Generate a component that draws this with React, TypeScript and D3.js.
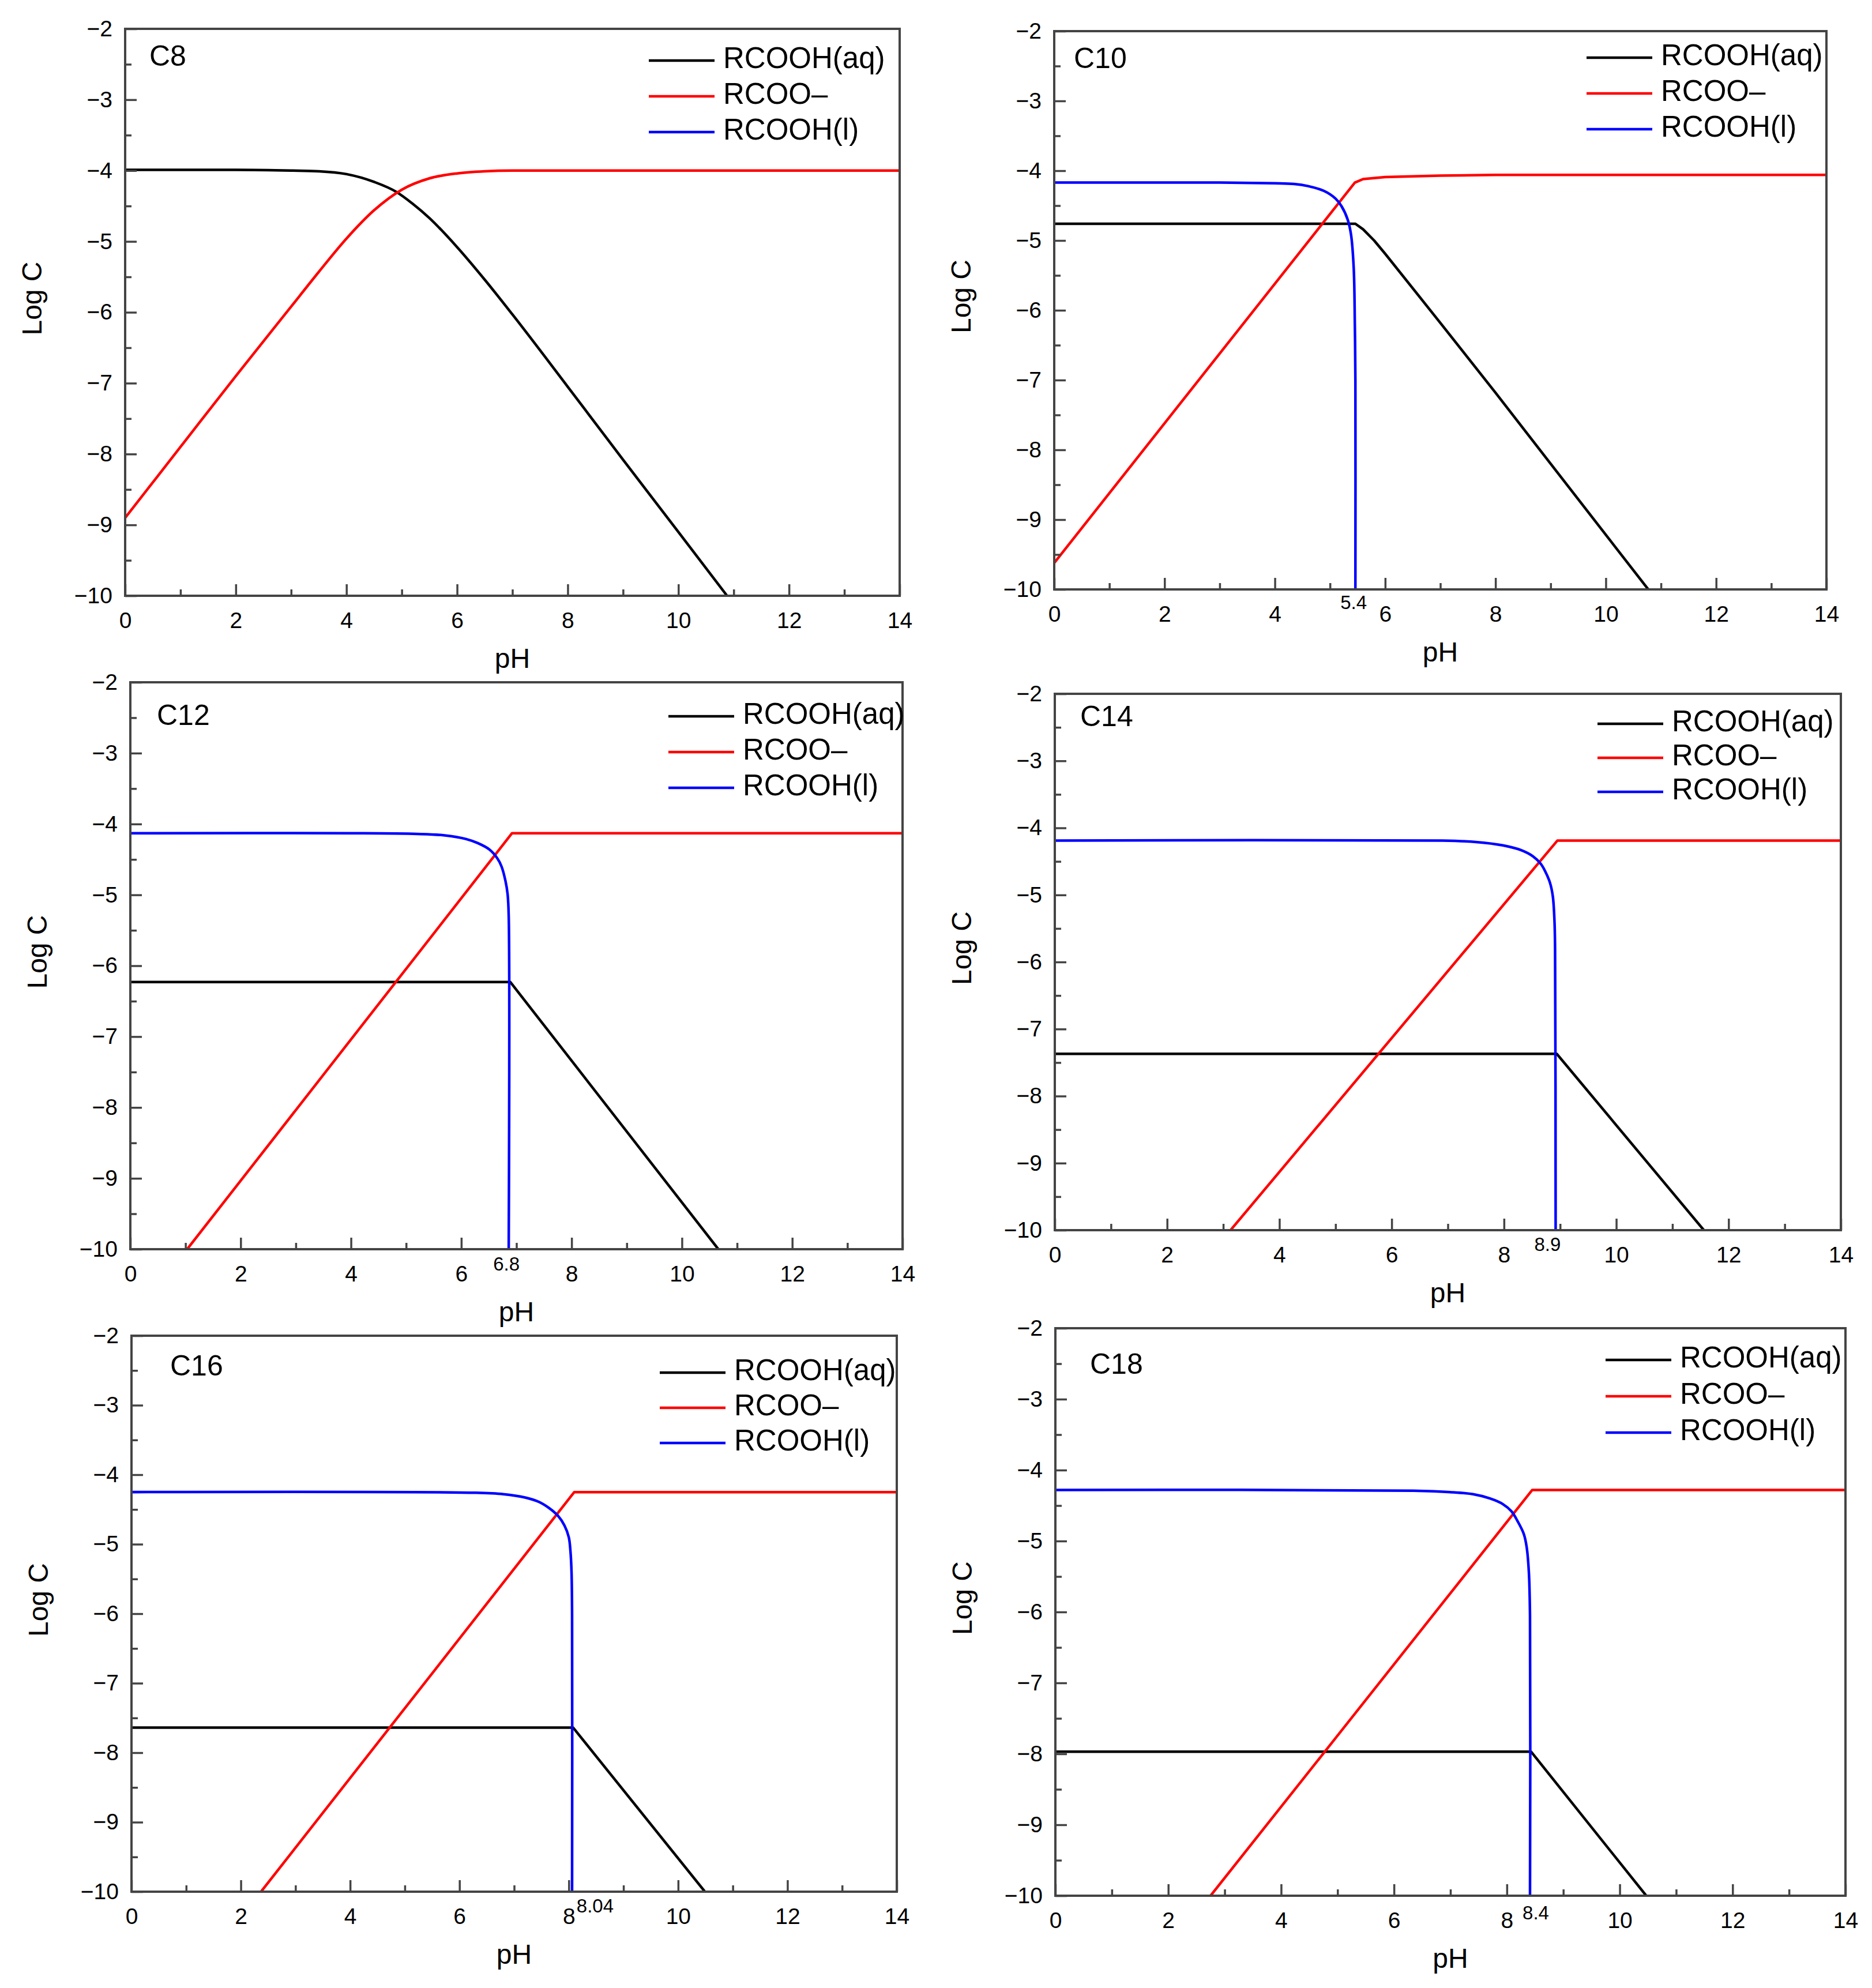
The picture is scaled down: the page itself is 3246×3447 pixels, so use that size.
import React, { useEffect, useRef } from "react";
import * as d3 from "d3";

type Pt = [number, number];

// x ticks (pH) and y ticks (Log C)
const phTicks = [0, 2, 4, 6, 8, 10, 12, 14];
const logTicks = [-2, -3, -4, -5, -6, -7, -8, -9, -10];
const seriesNames = ["RCOOH(aq)", "RCOO\u2013", "RCOOH(l)"];
const seriesColors = ["#000000", "#ff0000", "#0000ff"];

// C8
const c8Aq: Pt[] = [[0, -3.99], [2, -3.99], [3, -4.0], [3.5, -4.01], [4, -4.05], [4.5, -4.16], [4.9, -4.3], [5.2, -4.47], [5.5, -4.67], [6, -5.08], [6.5, -5.54], [7, -6.03], [8, -7.05], [9, -8.08], [10, -9.1], [10.88, -10]];
const c8Ion: Pt[] = [[0, -8.9], [1, -7.9], [2, -6.9], [3, -5.92], [3.5, -5.43], [4, -4.96], [4.5, -4.56], [5, -4.27], [5.5, -4.11], [6, -4.04], [6.5, -4.01], [7, -4.0], [14, -4.0]];

// C10
const c10Aq: Pt[] = [[0, -4.76], [5.46, -4.76], [5.6, -4.84], [5.8, -5.0], [6, -5.19], [7, -6.18], [8, -7.18], [9, -8.2], [10.77, -10]];
const c10Ion: Pt[] = [[0, -9.62], [5.45, -4.17], [5.6, -4.12], [6, -4.09], [7, -4.07], [8, -4.06], [14, -4.06]];
const c10Liq: Pt[] = [[0, -4.17], [3, -4.17], [4, -4.18], [4.35, -4.19], [4.6, -4.22], [4.89, -4.29], [5.1, -4.4], [5.21, -4.51], [5.32, -4.7], [5.38, -4.91], [5.43, -5.4], [5.45, -6.2], [5.46, -7], [5.46, -10]];

// C12
const c12Aq: Pt[] = [[0, -6.23], [6.89, -6.23], [10.66, -10]];
const c12Ion: Pt[] = [[1.03, -10], [6.92, -4.13], [14, -4.13]];
const c12Liq: Pt[] = [[0, -4.13], [4, -4.13], [5.2, -4.14], [5.7, -4.16], [6.08, -4.21], [6.3, -4.27], [6.51, -4.36], [6.65, -4.48], [6.73, -4.6], [6.8, -4.8], [6.84, -4.99], [6.86, -5.3], [6.86, -10]];

// C14
const c14Aq: Pt[] = [[0, -7.37], [8.94, -7.37], [11.56, -10]];
const c14Ion: Pt[] = [[3.13, -10], [8.95, -4.19], [14, -4.19]];
const c14Liq: Pt[] = [[0, -4.19], [6.9, -4.19], [7.5, -4.21], [7.98, -4.26], [8.3, -4.33], [8.51, -4.42], [8.65, -4.53], [8.73, -4.64], [8.82, -4.82], [8.87, -5.02], [8.9, -5.4], [8.91, -5.8], [8.92, -10]];

// C16
const c16Aq: Pt[] = [[0, -7.64], [8.08, -7.64], [10.49, -10]];
const c16Ion: Pt[] = [[2.37, -10], [8.1, -4.25], [14, -4.25]];
const c16Liq: Pt[] = [[0, -4.25], [6.3, -4.26], [6.8, -4.28], [7.21, -4.33], [7.45, -4.39], [7.64, -4.48], [7.8, -4.59], [7.92, -4.73], [8.0, -4.9], [8.03, -5.1], [8.05, -5.4], [8.06, -6], [8.06, -10]];

// C18
const c18Aq: Pt[] = [[0, -7.97], [8.43, -7.97], [10.47, -10]];
const c18Ion: Pt[] = [[2.75, -10], [8.45, -4.28], [14, -4.28]];
const c18Liq: Pt[] = [[0, -4.28], [6.34, -4.29], [7, -4.31], [7.4, -4.34], [7.7, -4.4], [7.93, -4.48], [8.08, -4.58], [8.19, -4.72], [8.3, -4.9], [8.35, -5.08], [8.39, -5.44], [8.41, -6.05], [8.41, -10]];

// transition pH marked under each axis
const markLabels = ["", "5.4", "6.8", "8.9", "8.04", "8.4"];
const markValues = [0, 5.46, 6.86, 8.92, 8.06, 8.41];

interface Panel {
  name: string;
  box: [number, number, number, number]; // left, top, right, bottom
  series: (Pt[] | null)[];
  curves: d3.CurveFactory[];
  title: [number, number];
  legend: [number, number, number];
  markOffset: [number, number];
}

const mono = d3.curveMonotoneX;
const lin = d3.curveLinear;
const knee = d3.curveCatmullRom.alpha(0.5);

const panels: Panel[] = [
  { name: "C8", box: [217, 50, 1560, 1033], series: [c8Aq, c8Ion, null], curves: [mono, mono, knee], title: [42, 51], legend: [435, 55, 62], markOffset: [0, 0] },
  { name: "C10", box: [1828, 54, 3167, 1022], series: [c10Aq, c10Ion, c10Liq], curves: [lin, lin, knee], title: [34, 51], legend: [416, 46, 62], markOffset: [-3, 25] },
  { name: "C12", box: [226, 1183, 1565, 2166], series: [c12Aq, c12Ion, c12Liq], curves: [lin, lin, knee], title: [46, 61], legend: [406, 59, 62], markOffset: [-4, 28] },
  { name: "C14", box: [1829, 1203, 3192, 2133], series: [c14Aq, c14Ion, c14Liq], curves: [lin, lin, knee], title: [44, 43], legend: [422, 52, 59], markOffset: [-14, 27] },
  { name: "C16", box: [228, 2316, 1555, 3280], series: [c16Aq, c16Ion, c16Liq], curves: [lin, lin, knee], title: [67, 56], legend: [411, 64, 61], markOffset: [40, 27] },
  { name: "C18", box: [1830, 2303, 3200, 3287], series: [c18Aq, c18Ion, c18Liq], curves: [lin, lin, knee], title: [60, 66], legend: [416, 55, 63], markOffset: [10, 32] },
];

const FONT = "'Liberation Sans', Arial, sans-serif";
const minus = (v: number) => (v < 0 ? "\u2212" + Math.abs(v) : String(v));

const App: React.FC = () => {
  const svgRef = useRef<SVGSVGElement | null>(null);

  useEffect(() => {
    const svg = d3.select(svgRef.current);
    svg.selectAll("*").remove();
    svg.append("rect").attr("width", 3246).attr("height", 3447).attr("fill", "#fff");

    panels.forEach((p, pi) => {
      const [x0, y0, x1, y1] = p.box;
      const x = d3.scaleLinear().domain([0, 14]).range([x0, x1]);
      const y = d3.scaleLinear().domain([-10, -2]).range([y1, y0]);
      const g = svg.append("g");

      const clipId = `clip-${pi}`;
      g.append("clipPath")
        .attr("id", clipId)
        .append("rect")
        .attr("x", x0)
        .attr("y", y0 - 2)
        .attr("width", x1 - x0)
        .attr("height", y1 - y0 + 2);

      // curves
      p.series.forEach((s, si) => {
        if (!s) return;
        const line = d3
          .line<Pt>()
          .x((d) => x(d[0]))
          .y((d) => y(d[1]))
          .curve(p.curves[si]);
        g.append("path")
          .datum(s)
          .attr("clip-path", `url(#${clipId})`)
          .attr("fill", "none")
          .attr("stroke", seriesColors[si])
          .attr("stroke-width", 4.5)
          .attr("stroke-linejoin", "round")
          .attr("d", line);
      });

      // frame
      g.append("rect")
        .attr("x", x0)
        .attr("y", y0)
        .attr("width", x1 - x0)
        .attr("height", y1 - y0)
        .attr("fill", "none")
        .attr("stroke", "#444")
        .attr("stroke-width", 4);

      // x axis ticks (inward)
      const xAxis = d3
        .axisBottom(x)
        .tickValues(d3.range(0, 15, 1))
        .tickSizeInner(-20)
        .tickSizeOuter(0)
        .tickFormat((d) => (phTicks.includes(+d) ? String(d) : ""));
      const xg = g.append("g").attr("transform", `translate(0,${y1})`).call(xAxis);
      xg.select(".domain").remove();
      xg.selectAll(".tick line")
        .attr("stroke", "#444")
        .attr("stroke-width", 3.5)
        .attr("y2", (d) => (phTicks.includes(+(d as number)) ? -20 : -11));
      xg.selectAll(".tick text")
        .attr("y", 42)
        .attr("dy", "0.35em")
        .style("font-family", FONT)
        .style("font-size", "39px")
        .style("fill", "#000");

      // y axis ticks (inward)
      const yAxis = d3
        .axisLeft(y)
        .tickValues(d3.range(-10, -1.99, 0.5))
        .tickSizeInner(-20)
        .tickSizeOuter(0)
        .tickFormat((d) => (logTicks.includes(+d) ? minus(+d) : ""));
      const yg = g.append("g").attr("transform", `translate(${x0},0)`).call(yAxis);
      yg.select(".domain").remove();
      yg.selectAll(".tick line")
        .attr("stroke", "#444")
        .attr("stroke-width", 3.5)
        .attr("x2", (d) => (logTicks.includes(+(d as number)) ? 20 : 11));
      yg.selectAll(".tick text")
        .attr("x", -22)
        .style("font-family", FONT)
        .style("font-size", "39px")
        .style("fill", "#000");

      // transition pH label
      if (markLabels[pi]) {
        g.append("text")
          .attr("x", x(markValues[pi]) + p.markOffset[0])
          .attr("y", y1 + p.markOffset[1])
          .attr("text-anchor", "middle")
          .attr("dominant-baseline", "middle")
          .style("font-family", FONT)
          .style("font-size", "33px")
          .text(markLabels[pi]);
      }

      // axis titles
      g.append("text")
        .attr("x", (x0 + x1) / 2)
        .attr("y", y1 + 112)
        .attr("text-anchor", "middle")
        .attr("dominant-baseline", "middle")
        .style("font-family", FONT)
        .style("font-size", "48px")
        .text("pH");
      g.append("text")
        .attr("transform", `translate(${x0 - 158},${(y0 + y1) / 2 - 24}) rotate(-90)`)
        .attr("text-anchor", "middle")
        .attr("dominant-baseline", "middle")
        .style("font-family", FONT)
        .style("font-size", "48px")
        .text("Log C");

      // panel name
      g.append("text")
        .attr("x", x0 + p.title[0])
        .attr("y", y0 + p.title[1])
        .attr("dominant-baseline", "middle")
        .style("font-family", FONT)
        .style("font-size", "50px")
        .text(p.name);

      // legend
      const [lr, lt, ls] = p.legend;
      seriesNames.forEach((n, i) => {
        const ly = y0 + lt + i * ls;
        g.append("line")
          .attr("x1", x1 - lr)
          .attr("x2", x1 - lr + 114)
          .attr("y1", ly)
          .attr("y2", ly)
          .attr("stroke", seriesColors[i])
          .attr("stroke-width", 4.5);
        g.append("text")
          .attr("x", x1 - lr + 129)
          .attr("y", ly)
          .attr("dominant-baseline", "middle")
          .style("font-family", FONT)
          .style("font-size", "51px")
          .text(n);
      });
    });
  }, []);

  return (
    <div style={{ position: "absolute", left: 0, top: 0 }}>
      <svg ref={svgRef} width={3246} height={3447} style={{ display: "block" }}></svg>
    </div>
  );
};

export default App;
